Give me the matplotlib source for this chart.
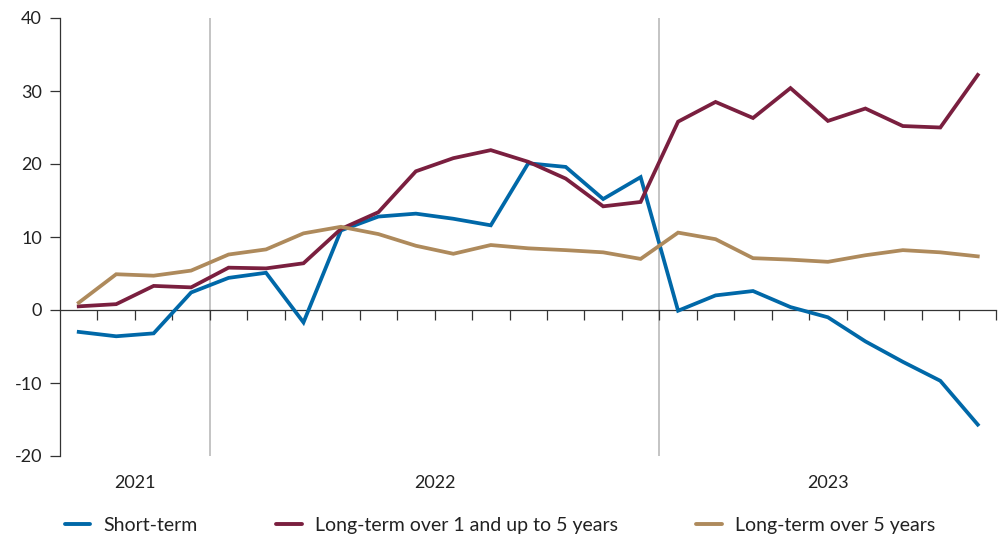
import matplotlib
matplotlib.use("Agg")
import matplotlib.pyplot as plt
from matplotlib.transforms import blended_transform_factory
import numpy as np

plt.rcParams['font.family'] = ['Lato', 'DejaVu Sans']
plt.rcParams['axes.unicode_minus'] = False

# Monthly data, Sep 2021 - Sep 2023
years = ["2021", "2022", "2023"]
months_per_year = [4, 12, 9]
short_term = [-3.0, -3.6, -3.2, 2.4, 4.4, 5.1, -1.7, 10.9, 12.8, 13.2, 12.5, 11.6,
              20.1, 19.6, 15.2, 18.2, -0.1, 2.0, 2.6, 0.4, -1.0, -4.3, -7.1, -9.7, -15.7]
long_1_5 = [0.5, 0.8, 3.3, 3.1, 5.8, 5.7, 6.4, 11.1, 13.4, 19.0, 20.8, 21.9,
            20.3, 18.0, 14.2, 14.8, 25.8, 28.5, 26.3, 30.4, 25.9, 27.6, 25.2, 25.0, 32.2]
long_over5 = [1.0, 4.9, 4.7, 5.4, 7.6, 8.3, 10.5, 11.4, 10.4, 8.8, 7.7, 8.9,
              8.45, 8.2, 7.9, 7.0, 10.6, 9.7, 7.1, 6.9, 6.6, 7.5, 8.2, 7.9, 7.35]
labels = ["Short-term", "Long-term over 1 and up to 5 years", "Long-term over 5 years"]
colors = ["#0068A8", "#7A1F3F", "#AE8A5C"]

n = len(short_term)
x = np.arange(n)

fig = plt.figure(figsize=(10.04, 5.39), dpi=100)
ax = fig.add_axes([60/1004, 1 - 456/539, (996.5 - 60)/1004, (456 - 18)/539])

axis_col = "#333333"
text_col = "#222222"

# year separators
bounds = np.cumsum(months_per_year)[:-1] - 0.5
for b in bounds:
    ax.plot([b, b], [-20, 40], color="#b4b4b4", lw=1.1, zorder=1)

for vals, lab, col in zip([short_term, long_1_5, long_over5], labels, colors):
    ax.plot(x, vals, color=col, lw=2.7, label=lab, solid_joinstyle='miter', zorder=3)

ax.set_xlim(-0.5, n - 0.5)
ax.set_ylim(-20, 40)

ax.spines['top'].set_visible(False)
ax.spines['right'].set_visible(False)
ax.spines['bottom'].set_position(('data', 0))
ax.spines['bottom'].set_color(axis_col)
ax.spines['left'].set_color(axis_col)
ax.spines['bottom'].set_linewidth(0.9)
ax.spines['left'].set_linewidth(0.9)

ax.set_yticks(np.arange(-20, 41, 10))
ax.tick_params(axis='y', direction='out', length=7, width=0.9, color=axis_col,
               labelsize=13, labelcolor=text_col, pad=6)
ax.set_xticks(np.arange(0.5, n, 1.0))
ax.set_xticklabels([])
ax.tick_params(axis='x', direction='out', length=7, width=0.9, color=axis_col)

# year labels centred in each year's span
trans = blended_transform_factory(ax.transData, ax.transAxes)
start = -0.5
for yr, m in zip(years, months_per_year):
    centre = start + m / 2
    ax.annotate(yr, xy=(centre, 0), xycoords=trans, xytext=(0, -14),
                textcoords='offset points', ha='center', va='top',
                fontsize=13, color=text_col)
    start += m

handles, labs = ax.get_legend_handles_labels()
leg = fig.legend(handles, labs, loc='center', bbox_to_anchor=(0.498, 0.025), ncol=3,
                 frameon=False, fontsize=14, handlelength=1.3, handletextpad=0.67,
                 columnspacing=4.05, labelcolor=text_col)
for line in leg.get_lines():
    line.set_linewidth(2.8)
    line.set_solid_capstyle('round')

fig.savefig("out.png", dpi=100)
